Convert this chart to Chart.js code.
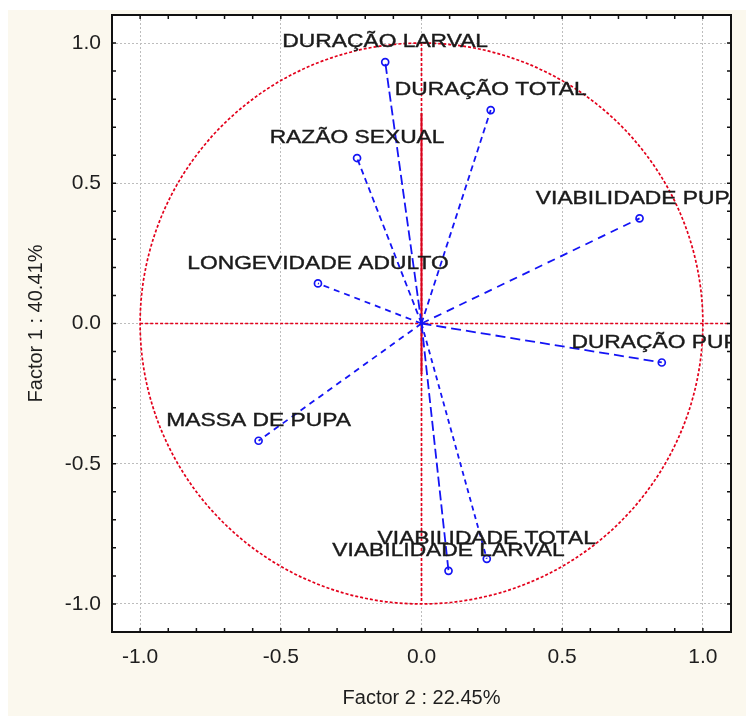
<!DOCTYPE html>
<html>
<head>
<meta charset="utf-8">
<script src="https://cdn.jsdelivr.net/npm/chart.js@4.4.1/dist/chart.umd.min.js"></script>
<style>
html,body{margin:0;padding:0;background:#ffffff;}
#wrap{width:746px;height:716px;position:relative;}
</style>
</head>
<body>
<div id="wrap"><canvas id="c" width="746" height="716"></canvas></div>
<script>
// ---- data ----
const variables = ['DURAÇÃO LARVAL','DURAÇÃO TOTAL','RAZÃO SEXUAL','VIABILIDADE PUPA','LONGEVIDADE ADULTO','DURAÇÃO PUPA','MASSA DE PUPA','VIABILIDADE TOTAL','VIABILIDADE LARVAL'];
const factor2 = [-0.129, 0.246, -0.229, 0.775, -0.368, 0.854, -0.579, 0.232, 0.096];   // x
const factor1 = [0.932, 0.761, 0.590, 0.375, 0.143, -0.139, -0.418, -0.839, -0.882];   // y
const tickValues = [-1.0, -0.5, 0.0, 0.5, 1.0];
const minorStep = 0.1;
const axisMin = -1.1, axisMax = 1.1;
const xTitle = 'Factor 2 : 22.45%';
const yTitle = 'Factor 1 : 40.41%';
const solidAxisTop = 0.75, solidAxisBottom = -0.18;

// ---- styles ----
const dashes = [[10,4],[6,4],[6,4],[8,6],[6,5],[10,5],[6,5],[5,4],[10,4]];
const BLUE = '#1414f5';
const RED = '#e3001b';
const FONT = '"Liberation Sans", Arial, sans-serif';

const decor = {
  id: 'decor',
  beforeDraw(chart) {
    const ctx = chart.ctx, a = chart.chartArea;
    ctx.save();
    ctx.fillStyle = '#ffffff';
    ctx.fillRect(0, 0, chart.width, chart.height);
    ctx.fillStyle = '#fbf8ee';
    ctx.fillRect(8, 10, chart.width - 8, chart.height - 10);
    ctx.fillStyle = '#ffffff';
    ctx.fillRect(a.left, a.top, a.right - a.left, a.bottom - a.top);
    ctx.restore();
  },
  beforeDatasetsDraw(chart) {
    const ctx = chart.ctx, a = chart.chartArea;
    const xs = chart.scales.x, ys = chart.scales.y;
    const cx = xs.getPixelForValue(0), cy = ys.getPixelForValue(0);
    const rx = xs.getPixelForValue(1) - cx, ry = cy - ys.getPixelForValue(1);
    ctx.save();
    ctx.beginPath(); ctx.rect(a.left, a.top, a.right - a.left, a.bottom - a.top); ctx.clip();
    ctx.strokeStyle = RED;
    ctx.lineWidth = 1.7;
    ctx.setLineDash([3, 2]);
    ctx.beginPath();
    ctx.ellipse(cx, cy, rx, ry, 0, 0, Math.PI * 2);
    ctx.stroke();
    ctx.beginPath();
    ctx.moveTo(xs.getPixelForValue(-1), cy);
    ctx.lineTo(a.right, cy);
    ctx.stroke();
    ctx.beginPath();
    ctx.moveTo(cx, ys.getPixelForValue(1));
    ctx.lineTo(cx, ys.getPixelForValue(-1));
    ctx.stroke();
    ctx.setLineDash([]);
    ctx.lineWidth = 2;
    ctx.strokeStyle = '#d8001a';
    ctx.beginPath();
    ctx.moveTo(cx, ys.getPixelForValue(solidAxisTop));
    ctx.lineTo(cx, ys.getPixelForValue(solidAxisBottom));
    ctx.stroke();
    ctx.restore();
  },
  afterDatasetsDraw(chart) {
    const ctx = chart.ctx, a = chart.chartArea;
    const xs = chart.scales.x, ys = chart.scales.y;
    ctx.save();
    ctx.beginPath(); ctx.rect(a.left, a.top, a.right - a.left, a.bottom - a.top); ctx.clip();
    ctx.fillStyle = '#1a1a1a';
    ctx.strokeStyle = '#1a1a1a';
    ctx.lineWidth = 0.4;
    ctx.font = '19px ' + FONT;
    ctx.textAlign = 'center';
    ctx.textBaseline = 'middle';
    variables.forEach((name, i) => {
      const px = xs.getPixelForValue(factor2[i]);
      const py = ys.getPixelForValue(factor1[i]);
      ctx.save();
      ctx.translate(px, py - 20);
      ctx.scale(1.2, 1);
      ctx.fillText(name, 0, 0);
      ctx.strokeText(name, 0, 0);
      ctx.restore();
    });
    ctx.restore();
    ctx.save();
    ctx.strokeStyle = '#111111';
    ctx.lineWidth = 2;
    ctx.strokeRect(a.left, a.top, a.right - a.left, a.bottom - a.top);
    ctx.lineWidth = 1.5;
    ctx.beginPath();
    const n = Math.round((axisMax - axisMin) / minorStep);
    for (let k = 0; k <= n; k++) {
      const v = axisMin + k * minorStep;
      const px = xs.getPixelForValue(v), py = ys.getPixelForValue(v);
      ctx.moveTo(px, a.bottom); ctx.lineTo(px, a.bottom - 4);
      ctx.moveTo(px, a.top); ctx.lineTo(px, a.top + 4);
      ctx.moveTo(a.left, py); ctx.lineTo(a.left + 4, py);
      ctx.moveTo(a.right, py); ctx.lineTo(a.right - 4, py);
    }
    ctx.stroke();
    ctx.restore();
  }
};

const datasets = variables.map((name, i) => ({
  label: name,
  data: [{x: 0, y: 0}, {x: factor2[i], y: factor1[i]}],
  showLine: true,
  borderColor: BLUE,
  borderWidth: 1.8,
  borderDash: dashes[i],
  pointRadius: [0, 3.5],
  pointHoverRadius: [0, 3.5],
  pointBorderColor: BLUE,
  pointBackgroundColor: 'rgba(255,255,255,0)',
  pointBorderWidth: 1.7,
  fill: false
}));

const axisCommon = (title, isY) => ({
  type: 'linear',
  min: axisMin,
  max: axisMax,
  afterBuildTicks: s => { s.ticks = tickValues.map(v => ({value: v})); },
  afterFit: s => {
    if (isY) s.width = 104; else s.height = 84;
    s.paddingTop = 0; s.paddingBottom = 0; s.paddingLeft = 0; s.paddingRight = 0;
  },
  ticks: {
    callback: v => Number(v).toFixed(1),
    color: '#1e1e1e',
    font: {family: FONT, size: 21},
    padding: isY ? 11 : 13,
    autoSkip: false,
    maxRotation: 0
  },
  grid: {color: '#bdbdbd', lineWidth: 1, drawTicks: false},
  border: {display: false, dash: [2, 2]},
  title: {
    display: true,
    text: title,
    color: '#1e1e1e',
    font: {family: FONT, size: 20},
    padding: isY ? {top: 16, bottom: 0} : {top: 0, bottom: 6}
  }
});

new Chart(document.getElementById('c'), {
  type: 'scatter',
  data: {datasets},
  options: {
    responsive: false,
    devicePixelRatio: 1,
    animation: false,
    layout: {padding: {left: 8, top: 15, right: 15, bottom: 0}},
    plugins: {legend: {display: false}, tooltip: {enabled: false}},
    scales: {
      x: axisCommon(xTitle, false),
      y: axisCommon(yTitle, true)
    }
  },
  plugins: [decor]
});
</script>
</body>
</html>
